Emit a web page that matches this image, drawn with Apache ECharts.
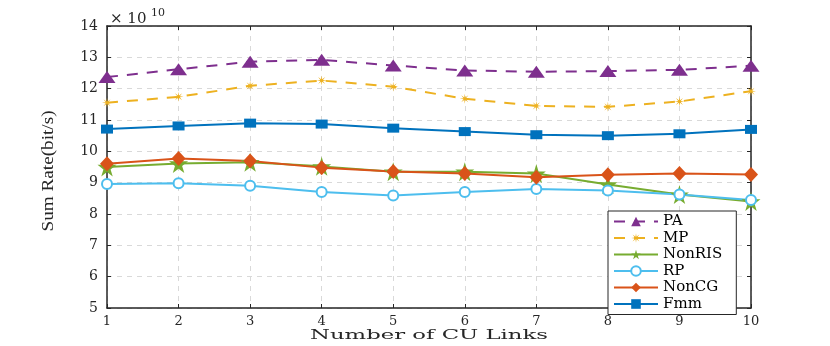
<!DOCTYPE html>
<html lang="en">
<head>
    <meta charset="UTF-8">
    <title>Sum Rate vs CU Links</title>
    <script src="https://cdn.jsdelivr.net/npm/echarts@6/dist/echarts.min.js"></script>
    <style>
        html, body { margin: 0; padding: 0; background: #fff; }
        #main { width: 830px; height: 346px; }
    </style>
</head>
<body>
    <div id="main"></div>
    <script>
        // number of CU links (x axis)
        var linkCounts = [1, 2, 3, 4, 5, 6, 7, 8, 9, 10];
        var seriesNames = ['PA', 'MP', 'NonRIS', 'RP', 'NonCG', 'Fmm'];
        // sum rate, in units of 1e10 bit/s
        var paRate = [12.37, 12.62, 12.86, 12.92, 12.74, 12.58, 12.54, 12.56, 12.60, 12.73];
        var mpRate = [11.55, 11.74, 12.09, 12.26, 12.06, 11.68, 11.45, 11.42, 11.59, 11.92];
        var nonRisRate = [9.50, 9.61, 9.65, 9.52, 9.35, 9.35, 9.29, 8.94, 8.62, 8.40];
        var rpRate = [8.96, 8.98, 8.90, 8.70, 8.59, 8.70, 8.80, 8.75, 8.62, 8.45];
        var nonCgRate = [9.60, 9.77, 9.69, 9.48, 9.36, 9.29, 9.17, 9.25, 9.29, 9.26];
        var fmmRate = [10.71, 10.81, 10.90, 10.87, 10.74, 10.63, 10.53, 10.50, 10.56, 10.70];
        var yTicks = [5, 14]; // min / max of the y axis

        var axisColor = '#262626';
        var starPath = 'path://M50,0 L61,35 L98,35 L68,57 L79,91 L50,70 L21,91 L32,57 L2,35 L39,35 Z';
        var asteriskPath = 'path://M100,50 L62.9,55.4 L85.4,85.4 L55.4,62.9 L50,100 L44.6,62.9 L14.6,85.4 L37.1,55.4 L0,50 L37.1,44.6 L14.6,14.6 L44.6,37.1 L50,0 L55.4,37.1 L85.4,14.6 L62.9,44.6 Z';

        function pairs(vals) {
            return linkCounts.map(function (x, i) { return [x, vals[i]]; });
        }

        function line(name, vals, color, symbol, size, dashed) {
            return {
                name: name,
                type: 'line',
                data: pairs(vals),
                symbol: symbol,
                symbolSize: size,
                showAllSymbol: true,
                animation: false,
                lineStyle: { color: color, width: 2, type: dashed ? [11, 9] : 'solid' },
                itemStyle: { color: color, borderColor: color, borderWidth: symbol == 'emptyCircle' ? 2 : 0 }
            };
        }

        var myChart = echarts.init(document.getElementById('main'));

        var option = {
            backgroundColor: '#fff',
            grid: { left: 107, right: 79, top: 26, bottom: 38 },
            legend: {
                data: seriesNames,
                orient: 'vertical',
                align: 'left',
                left: 608,
                top: 211,
                itemWidth: 44,
                itemHeight: 12,
                itemGap: 1.5,
                padding: [3, 14, 3, 5],
                borderColor: axisColor,
                borderWidth: 1,
                backgroundColor: '#fff',
                textStyle: { fontFamily: 'DejaVu Serif', fontSize: 15, color: '#000' }
            },
            xAxis: [{
                type: 'value',
                min: 1, max: 10, interval: 1,
                axisLine: { lineStyle: { color: axisColor, width: 1.5 } },
                axisTick: { inside: true, length: 4, lineStyle: { color: axisColor } },
                axisLabel: { margin: 7, fontFamily: 'DejaVu Serif', fontSize: 13, color: '#262626' },
                splitLine: { show: true, lineStyle: { color: '#d9d9d9', type: [5, 5] } }
            }, {
                type: 'value', position: 'top',
                min: 1, max: 10, interval: 1,
                axisLine: { show: true, lineStyle: { color: axisColor, width: 1.5 } },
                axisTick: { show: true, inside: true, length: 4, lineStyle: { color: axisColor } },
                axisLabel: { show: false },
                splitLine: { show: false }
            }],
            yAxis: [{
                type: 'value',
                min: yTicks[0], max: yTicks[1], interval: 1,
                axisLine: { show: true, lineStyle: { color: axisColor, width: 1.5 } },
                axisTick: { show: true, inside: true, length: 4, lineStyle: { color: axisColor } },
                axisLabel: { margin: 9, fontFamily: 'DejaVu Serif', fontSize: 14, color: '#262626' },
                splitLine: { show: true, lineStyle: { color: '#d9d9d9', type: [5, 5] } }
            }, {
                type: 'value', position: 'right',
                min: yTicks[0], max: yTicks[1], interval: 1,
                axisLine: { show: true, lineStyle: { color: axisColor, width: 1.5 } },
                axisTick: { show: true, inside: true, length: 4, lineStyle: { color: axisColor } },
                axisLabel: { show: false },
                splitLine: { show: false }
            }],
            graphic: [{
                type: 'text', x: 429, y: 336, scaleX: 1.75,
                style: { text: 'Number of CU Links', x: 0, y: 0, align: 'center', verticalAlign: 'middle',
                    font: '13px "DejaVu Serif"', fill: '#262626' }
            }, {
                type: 'text', x: 49, y: 171, rotation: Math.PI / 2, scaleX: 1.2,
                style: { text: 'Sum Rate(bit/s)', x: 0, y: 0, align: 'center', verticalAlign: 'middle',
                    font: '16px "Liberation Serif"', fill: '#262626' }
            }, {
                type: 'text', x: 110, y: 19,
                style: { text: '× 10', x: 0, y: 0, align: 'left', verticalAlign: 'middle',
                    font: '15px "DejaVu Serif"', fill: '#262626' }
            }, {
                type: 'text', x: 151, y: 13,
                style: { text: '10', x: 0, y: 0, align: 'left', verticalAlign: 'middle',
                    font: '11px "DejaVu Serif"', fill: '#262626' }
            }],
            series: [
                line('PA', paRate, '#7E2F8E', 'triangle', [17, 12], true),
                line('MP', mpRate, '#EDB120', asteriskPath, 10, true),
                line('NonRIS', nonRisRate, '#77AC30', starPath, 19, false),
                line('RP', rpRate, '#4DBEEE', 'emptyCircle', 10, false),
                line('NonCG', nonCgRate, '#D95319', 'diamond', [14, 15], false),
                line('Fmm', fmmRate, '#0072BD', 'rect', [12, 9], false)
            ]
        };

        myChart.setOption(option);
    </script>
</body>
</html>
